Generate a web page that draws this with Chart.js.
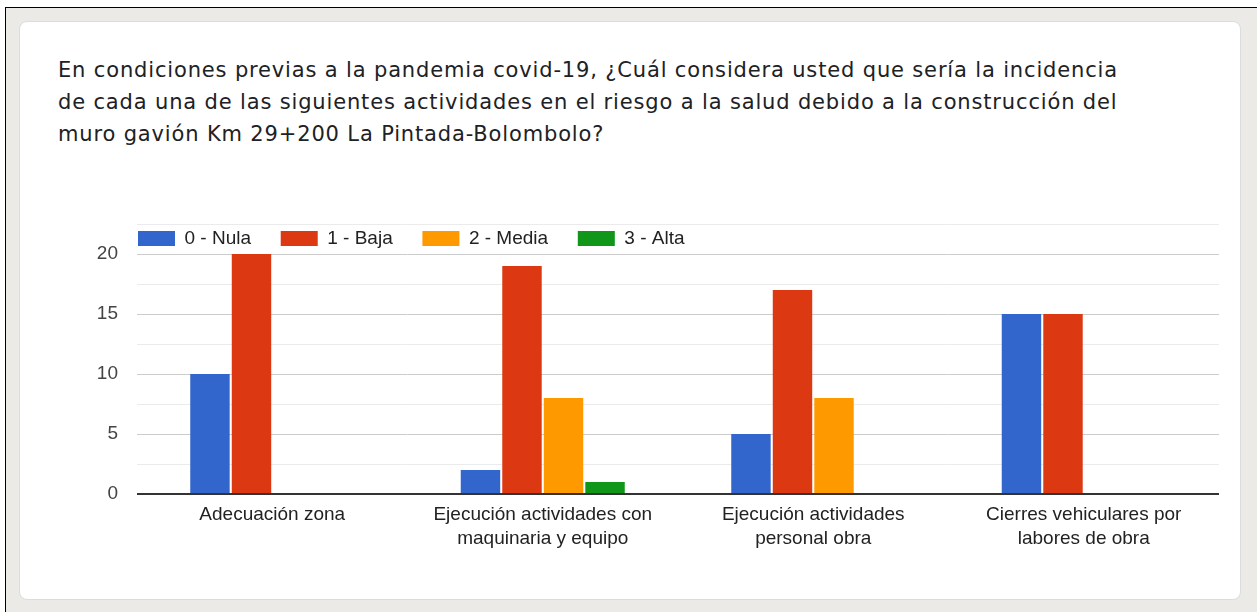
<!DOCTYPE html>
<html>
<head>
<meta charset="utf-8">
<script src="https://cdn.jsdelivr.net/npm/chart.js@4/dist/chart.umd.min.js"></script>
<style>
  html, body { margin: 0; padding: 0; background: #fff; overflow: hidden; }
  #frame {
    position: absolute; left: 5px; top: 7px; width: 1300px; height: 700px;
    border-left: 1px solid #000; border-top: 1px solid #000; background: #ebeae6;
  }
  #card {
    position: absolute; left: 19px; top: 21px; width: 1220px; height: 577px;
    background: #fff; border: 1px solid #dadce0; border-radius: 8px;
  }
  #title {
    position: absolute; left: 58px; top: 54px; width: 1150px;
    font-family: "DejaVu Sans", sans-serif; font-size: 21px; line-height: 32px;
    color: #202124; white-space: nowrap;
  }
  #title span { display: inline-block; }
  #wrap { position: absolute; left: 19px; top: 180px; width: 1222px; height: 400px; }
</style>
</head>
<body>
<div id="frame"></div>
<div id="card"></div>
<div id="title"><span>En condiciones previas a la pandemia covid-19, ¿Cuál considera usted que sería la incidencia</span><br><span>de cada una de las siguientes actividades en el riesgo a la salud debido a la construcción del</span><br><span>muro gavión Km 29+200 La Pintada-Bolombolo?</span></div>
<div id="wrap"><canvas id="canvas"></canvas></div>
<script>
const categories = [
    ["Adecuación zona"],
    ["Ejecución actividades con", "maquinaria y equipo"],
    ["Ejecución actividades", "personal obra"],
    ["Cierres vehiculares por", "labores de obra"],
];
const nula = [10, 2, 5, 15];
const baja = [20, 19, 17, 15];
const media = [0, 8, 8, 0];
const alta = [0, 1, 0, 0];
const yTicks = [0, 5, 10, 15, 20];

// stretch the question text so the first line spans like the original
(function fitTitle() {
    const title = document.getElementById("title");
    const first = title.querySelector("span");
    const w = first.getBoundingClientRect().width;
    const n = first.textContent.length;
    title.style.letterSpacing = ((1060 - w) / n).toFixed(3) + "px";
})();

const font = { family: "'Liberation Sans', Arial, sans-serif", size: 19 };

// legend drawn inside the plot, just under the top gridline
const legendInside = {
    id: "legendInside",
    afterLayout(chart) {
        const lg = chart.legend;
        const ca = chart.chartArea;
        const pad = lg.options.labels.padding;
        lg.left = ca.left + 1 - pad;
        lg.right = chart.width;
        lg.top = ca.top + 5 - pad;
        lg.bottom = ca.top + 40;
    },
};

const config = {
    type: "bar",
    data: {
        labels: categories,
        datasets: [
            { label: "0 - Nula", data: nula, backgroundColor: "#3366cc" },
            { label: "1 - Baja", data: baja, backgroundColor: "#dc3912" },
            { label: "2 - Media", data: media, backgroundColor: "#ff9900" },
            { label: "3 - Alta", data: alta, backgroundColor: "#109618" },
        ],
    },
    options: {
        animation: false,
        responsive: true,
        maintainAspectRatio: false,
        categoryPercentage: 0.614,
        barPercentage: 0.95,
        layout: {
            padding: { left: 58, right: 22, top: 44, bottom: 16 },
        },
        plugins: {
            tooltip: { enabled: false },
            legend: {
                position: "top",
                align: "start",
                maxHeight: 0.001,
                labels: {
                    boxWidth: 37,
                    boxHeight: 15,
                    padding: 29.7,
                    color: "#222",
                    font: font,
                },
            },
        },
        scales: {
            x: {
                grid: { display: false, drawTicks: false },
                border: { display: false },
                ticks: {
                    color: "#222",
                    font: { family: font.family, size: 19, lineHeight: 1.26 },
                    padding: 9,
                    maxRotation: 0,
                },
                afterFit: (s) => { s.height = 70; },
            },
            y: {
                min: 0,
                max: 22.5,
                border: { display: false },
                grid: {
                    drawTicks: false,
                    color: (c) => c.tick.value === 0 ? "#333" : (yTicks.includes(c.tick.value) ? "#cccccc" : "#ebebeb"),
                    lineWidth: (c) => c.tick.value === 0 ? 2 : 1,
                },
                ticks: {
                    stepSize: 2.5,
                    autoSkip: false,
                    color: "#444",
                    font: font,
                    padding: 19,
                    callback: (v) => yTicks.includes(v) ? v : "",
                },
                afterFit: (s) => { s.width = 60; },
            },
        },
    },
    plugins: [legendInside],
};

new Chart(document.getElementById("canvas"), config);
</script>
</body>
</html>
